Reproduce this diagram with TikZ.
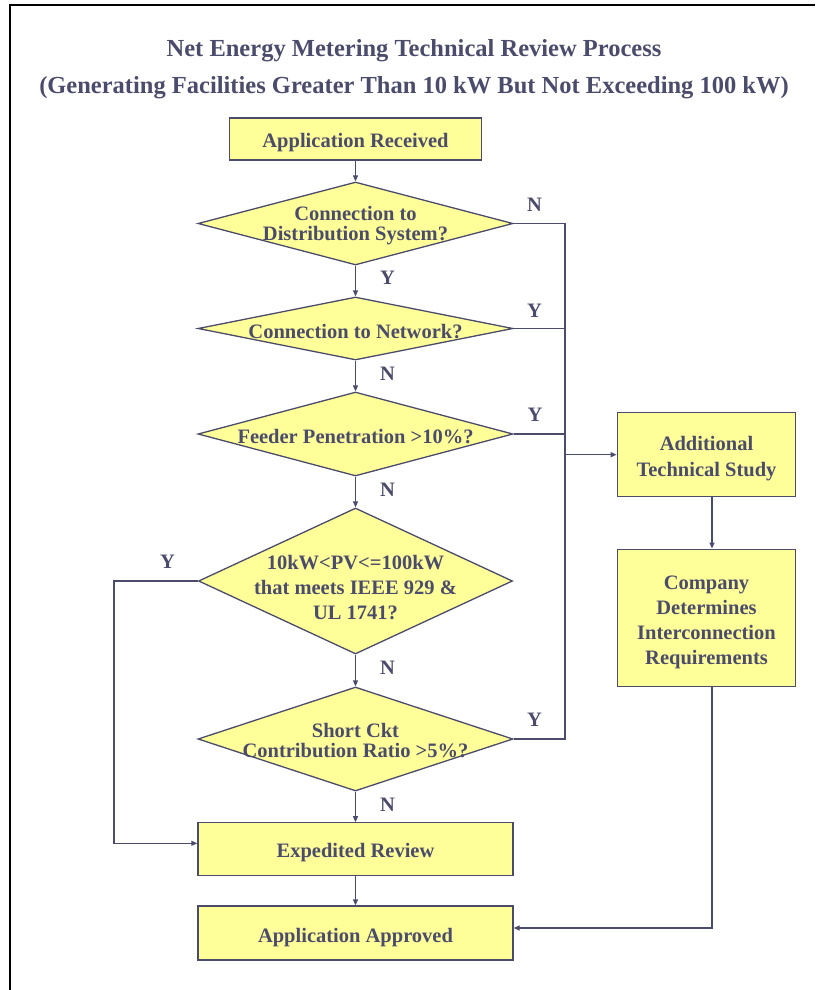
\documentclass[tikz,border=0pt]{standalone}
\usepackage{fontspec}
\setmainfont{Liberation Serif}
\usetikzlibrary{shapes.geometric,arrows.meta}
\definecolor{ink}{HTML}{4B4B6B}
\definecolor{pale}{HTML}{FFFF99}
\begin{document}
\begin{tikzpicture}[x=1pt,y=-1pt,
  box/.style={draw=ink, fill=pale, line width=1.3pt, inner sep=0pt},
  dia/.style={shape=diamond, draw=ink, fill=pale, line width=1.3pt, inner sep=0pt},
  txt/.style={text=ink, font=\fontsize{20.5}{25}\selectfont\bfseries, align=center, inner sep=0pt},
  tighttxt/.style={txt, font=\fontsize{20.5}{20}\selectfont\bfseries},
  ttl/.style={text=ink, font=\fontsize{24.5}{28}\selectfont\bfseries, inner sep=0pt},
  lbl/.style={text=ink, font=\fontsize{20.5}{24}\selectfont\bfseries, inner sep=0pt},
  conn/.style={draw=ink, line width=1.3pt},
  arr/.style={conn, -{Triangle[length=6pt,width=5pt]}}]
\useasboundingbox (0,0) rectangle (815,990);
% page frame
\draw[line width=2pt] (9,5) -- (815,5);
\draw[line width=2pt] (10,4) -- (10,990);
% title
\node[ttl] (title1) at (414,51) {Net Energy Metering Technical Review Process};
\node[ttl] (title2) at (414,88) {(Generating Facilities Greater Than 10 kW But Not Exceeding 100 kW)};
% boxes
\node[box, minimum width=252pt, minimum height=42pt] (ar) at (355.5,139) {};
\node[txt] (tar) at (355.5,143) {Application Received};
\node[dia, minimum width=315pt, minimum height=83pt] (d1) at (355.5,223.5) {};
\node[tighttxt] (t1) at (355.5,225.5) {Connection to\\Distribution System?};
\node[dia, minimum width=315pt, minimum height=63pt] (d2) at (355.5,328.5) {};
\node[txt] (t2) at (355.5,332) {Connection to Network?};
\node[dia, minimum width=315pt, minimum height=84pt] (d3) at (355.5,434) {};
\node[txt] (t3) at (355.5,436.5) {Feeder Penetration >10\%?};
\node[dia, minimum width=314pt, minimum height=146pt] (d4) at (355.5,581) {};
\node[txt] (t4) at (355.5,588) {10kW<PV<=100kW\\that meets IEEE 929 \&\\UL 1741?};
\node[dia, minimum width=315pt, minimum height=104pt] (d5) at (355.5,739) {};
\node[tighttxt] (t5) at (355.5,740.5) {Short Ckt\\Contribution Ratio >5\%?};
\node[box, minimum width=315pt, minimum height=53pt] (er) at (355.5,849.3) {};
\node[txt] (ter) at (355.5,852.5) {Expedited Review};
\node[box, minimum width=315pt, minimum height=54pt] (aa) at (355.5,933) {};
\node[txt] (taa) at (355.5,938) {Application Approved};
\node[box, minimum width=178.5pt, minimum height=84pt] (ats) at (706.5,454.7) {};
\node[txt, font=\fontsize{20.5}{26}\selectfont\bfseries] (tats) at (706.5,458.5) {Additional\\Technical Study};
\node[box, minimum width=178.5pt, minimum height=137pt] (co) at (706.5,617.7) {};
\node[txt] (tco) at (706.5,622.5) {Company\\Determines\\Interconnection\\Requirements};
% helper coordinates
\coordinate (tk) at (565,0);
\coordinate (lp) at (114,0);
% centre column
\draw[arr] (ar.south) -- (d1.north);
\draw[arr] (d1.south) -- (d2.north);
\draw[arr] (d2.south) -- (d3.north);
\draw[arr] (d3.south) -- (d4.north);
\draw[arr] (d4.south) -- (d5.north);
\draw[arr] (d5.south) -- (er.north);
\draw[arr] (er.south) -- (aa.north);
% trunk on the right
\draw[conn] (d1.east) -- (d1.east -| tk) -- (d5.east -| tk) -- (d5.east);
\draw[conn] (d2.east) -- (d2.east -| tk);
\draw[conn] (d3.east) -- (d3.east -| tk);
\draw[arr] (ats.west -| tk) -- (ats.west);
\draw[arr] ([xshift=5.5pt]ats.south) -- ([xshift=5.5pt]co.north);
\draw[arr] ([xshift=5.5pt]co.south) |- ([yshift=5pt]aa.east);
% loop on the left
\draw[arr] (d4.west) -- (d4.west -| lp) |- ([yshift=6pt]er.west);
% labels
\node[lbl] (l1) at (534.5,205) {N};
\node[lbl] (l2) at (387.5,278) {Y};
\node[lbl] (l3) at (534.5,311) {Y};
\node[lbl] (l4) at (387.5,374) {N};
\node[lbl] (l5) at (535,414.5) {Y};
\node[lbl] (l6) at (387.5,489.5) {N};
\node[lbl] (l7) at (167.5,562) {Y};
\node[lbl] (l8) at (387.5,667.5) {N};
\node[lbl] (l9) at (534.5,720) {Y};
\node[lbl] (l10) at (387.5,804.5) {N};
\end{tikzpicture}
\end{document}
